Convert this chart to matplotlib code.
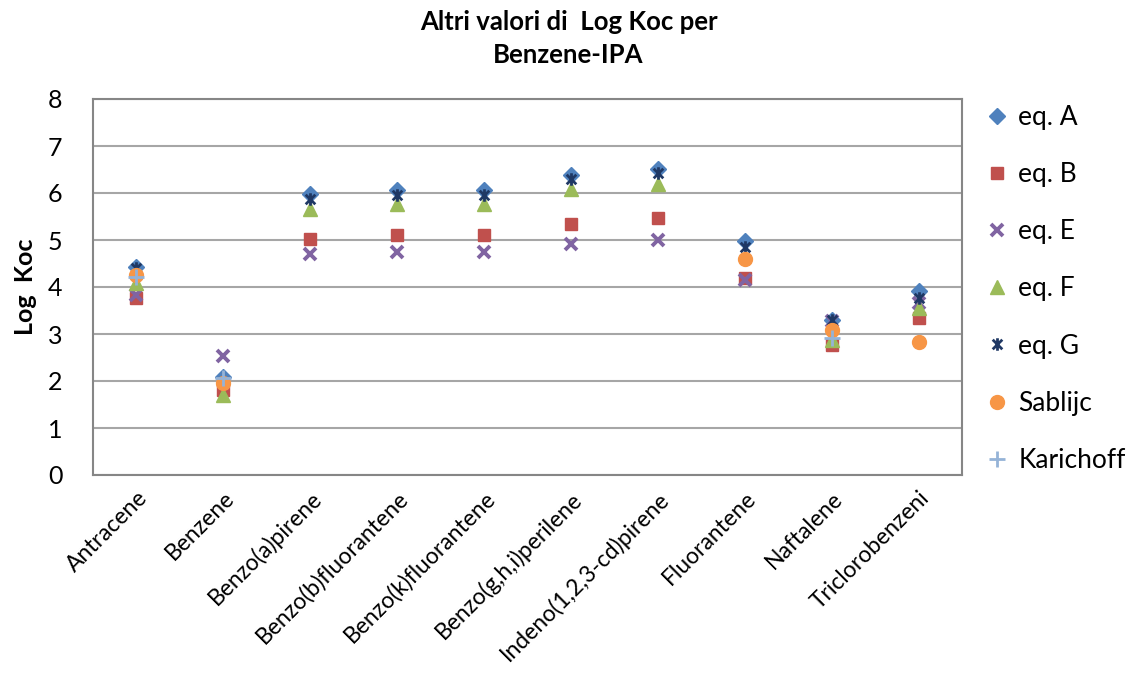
import matplotlib.pyplot as plt
import numpy as np
from matplotlib.path import Path

nan = np.nan

categories = ["Antracene", "Benzene", "Benzo(a)pirene", "Benzo(b)fluorantene",
              "Benzo(k)fluorantene", "Benzo(g,h,i)perilene", "Indeno(1,2,3-cd)pirene",
              "Fluorantene", "Naftalene", "Triclorobenzeni"]

eq_a = [4.43, 2.09, 5.98, 6.07, 6.07, 6.38, 6.52, 4.97, 3.3, 3.92]
eq_b = [3.76, 1.8, 5.03, 5.1, 5.1, 5.35, 5.46, 4.2, 2.77, 3.33]
eq_e = [3.84, 2.54, 4.71, 4.75, 4.75, 4.92, 5.0, 4.15, 3.28, 3.67]
eq_f = [4.09, 1.7, 5.67, 5.76, 5.76, 6.08, 6.2, nan, 2.87, 3.56]
eq_g = [4.4, nan, 5.88, 5.95, 5.95, 6.3, 6.42, 4.86, 3.3, 3.77]
sablijc = [4.26, 1.96, nan, nan, nan, nan, nan, 4.6, 3.09, 2.84]
karichoff = [4.22, 2.07, nan, nan, nan, nan, nan, nan, 2.92, nan]

# excel-style star marker (x with a vertical bar)
star = Path([(-1, -1), (1, 1), (-1, 1), (1, -1), (0, -1.3), (0, 1.3)],
            [Path.MOVETO, Path.LINETO, Path.MOVETO, Path.LINETO, Path.MOVETO, Path.LINETO])

series = [
    (eq_a, "eq. A", dict(marker="D", color="#4F81BD", markersize=8)),
    (eq_b, "eq. B", dict(marker="s", color="#C0504D", markersize=8)),
    (eq_e, "eq. E", dict(marker="x", color="#8064A2", markersize=9, markeredgewidth=2.8)),
    (eq_f, "eq. F", dict(marker="^", color="#9BBB59", markersize=10)),
    (eq_g, "eq. G", dict(marker=star, color="#1F3864", markersize=9, markeredgewidth=2)),
    (sablijc, "Sablijc", dict(marker="o", color="#F79646", markersize=10)),
    (karichoff, "Karichoff", dict(marker="+", color="#95B3D7", markersize=11, markeredgewidth=2)),
]

plt.rcParams['font.family'] = ['Lato', 'DejaVu Sans']

fig = plt.figure(figsize=(11.37, 6.73), dpi=100)
ax = fig.add_axes([93 / 1137, 1 - 475 / 673, (962 - 93) / 1137, 376 / 673])

x = np.arange(len(categories))
for vals, name, style in series:
    ax.plot(x, vals, linestyle="none", label=name, **style)

ax.set_xlim(-0.5, len(categories) - 0.5)
ax.set_ylim(0, 8)
ax.set_yticks(range(0, 9))
ax.tick_params(axis="y", labelsize=18, length=0, pad=22)
ax.tick_params(axis="x", length=0, pad=9)
ax.set_xticks(x)
ax.set_xticklabels(categories, rotation=45, ha="right", rotation_mode="anchor", fontsize=16.5)
ax.grid(axis="y", color="#A6A6A6", linewidth=1.5)
ax.set_axisbelow(True)
for s in ax.spines.values():
    s.set_color("#868686")
    s.set_linewidth(1.5)

ax.set_ylabel("Log  Koc", fontsize=18, fontweight="bold", labelpad=8)
fig.text(0.5, 0.985, "Altri valori di  Log Koc per\nBenzene-IPA", ha="center", va="top",
         fontsize=18.5, fontweight="bold", linespacing=1.45)

ax.legend(loc="center left", bbox_to_anchor=(0.995, 0.495), frameon=False, fontsize=19,
          labelspacing=1.22, handletextpad=0.2, handlelength=1.2)

fig.savefig("out.png")
